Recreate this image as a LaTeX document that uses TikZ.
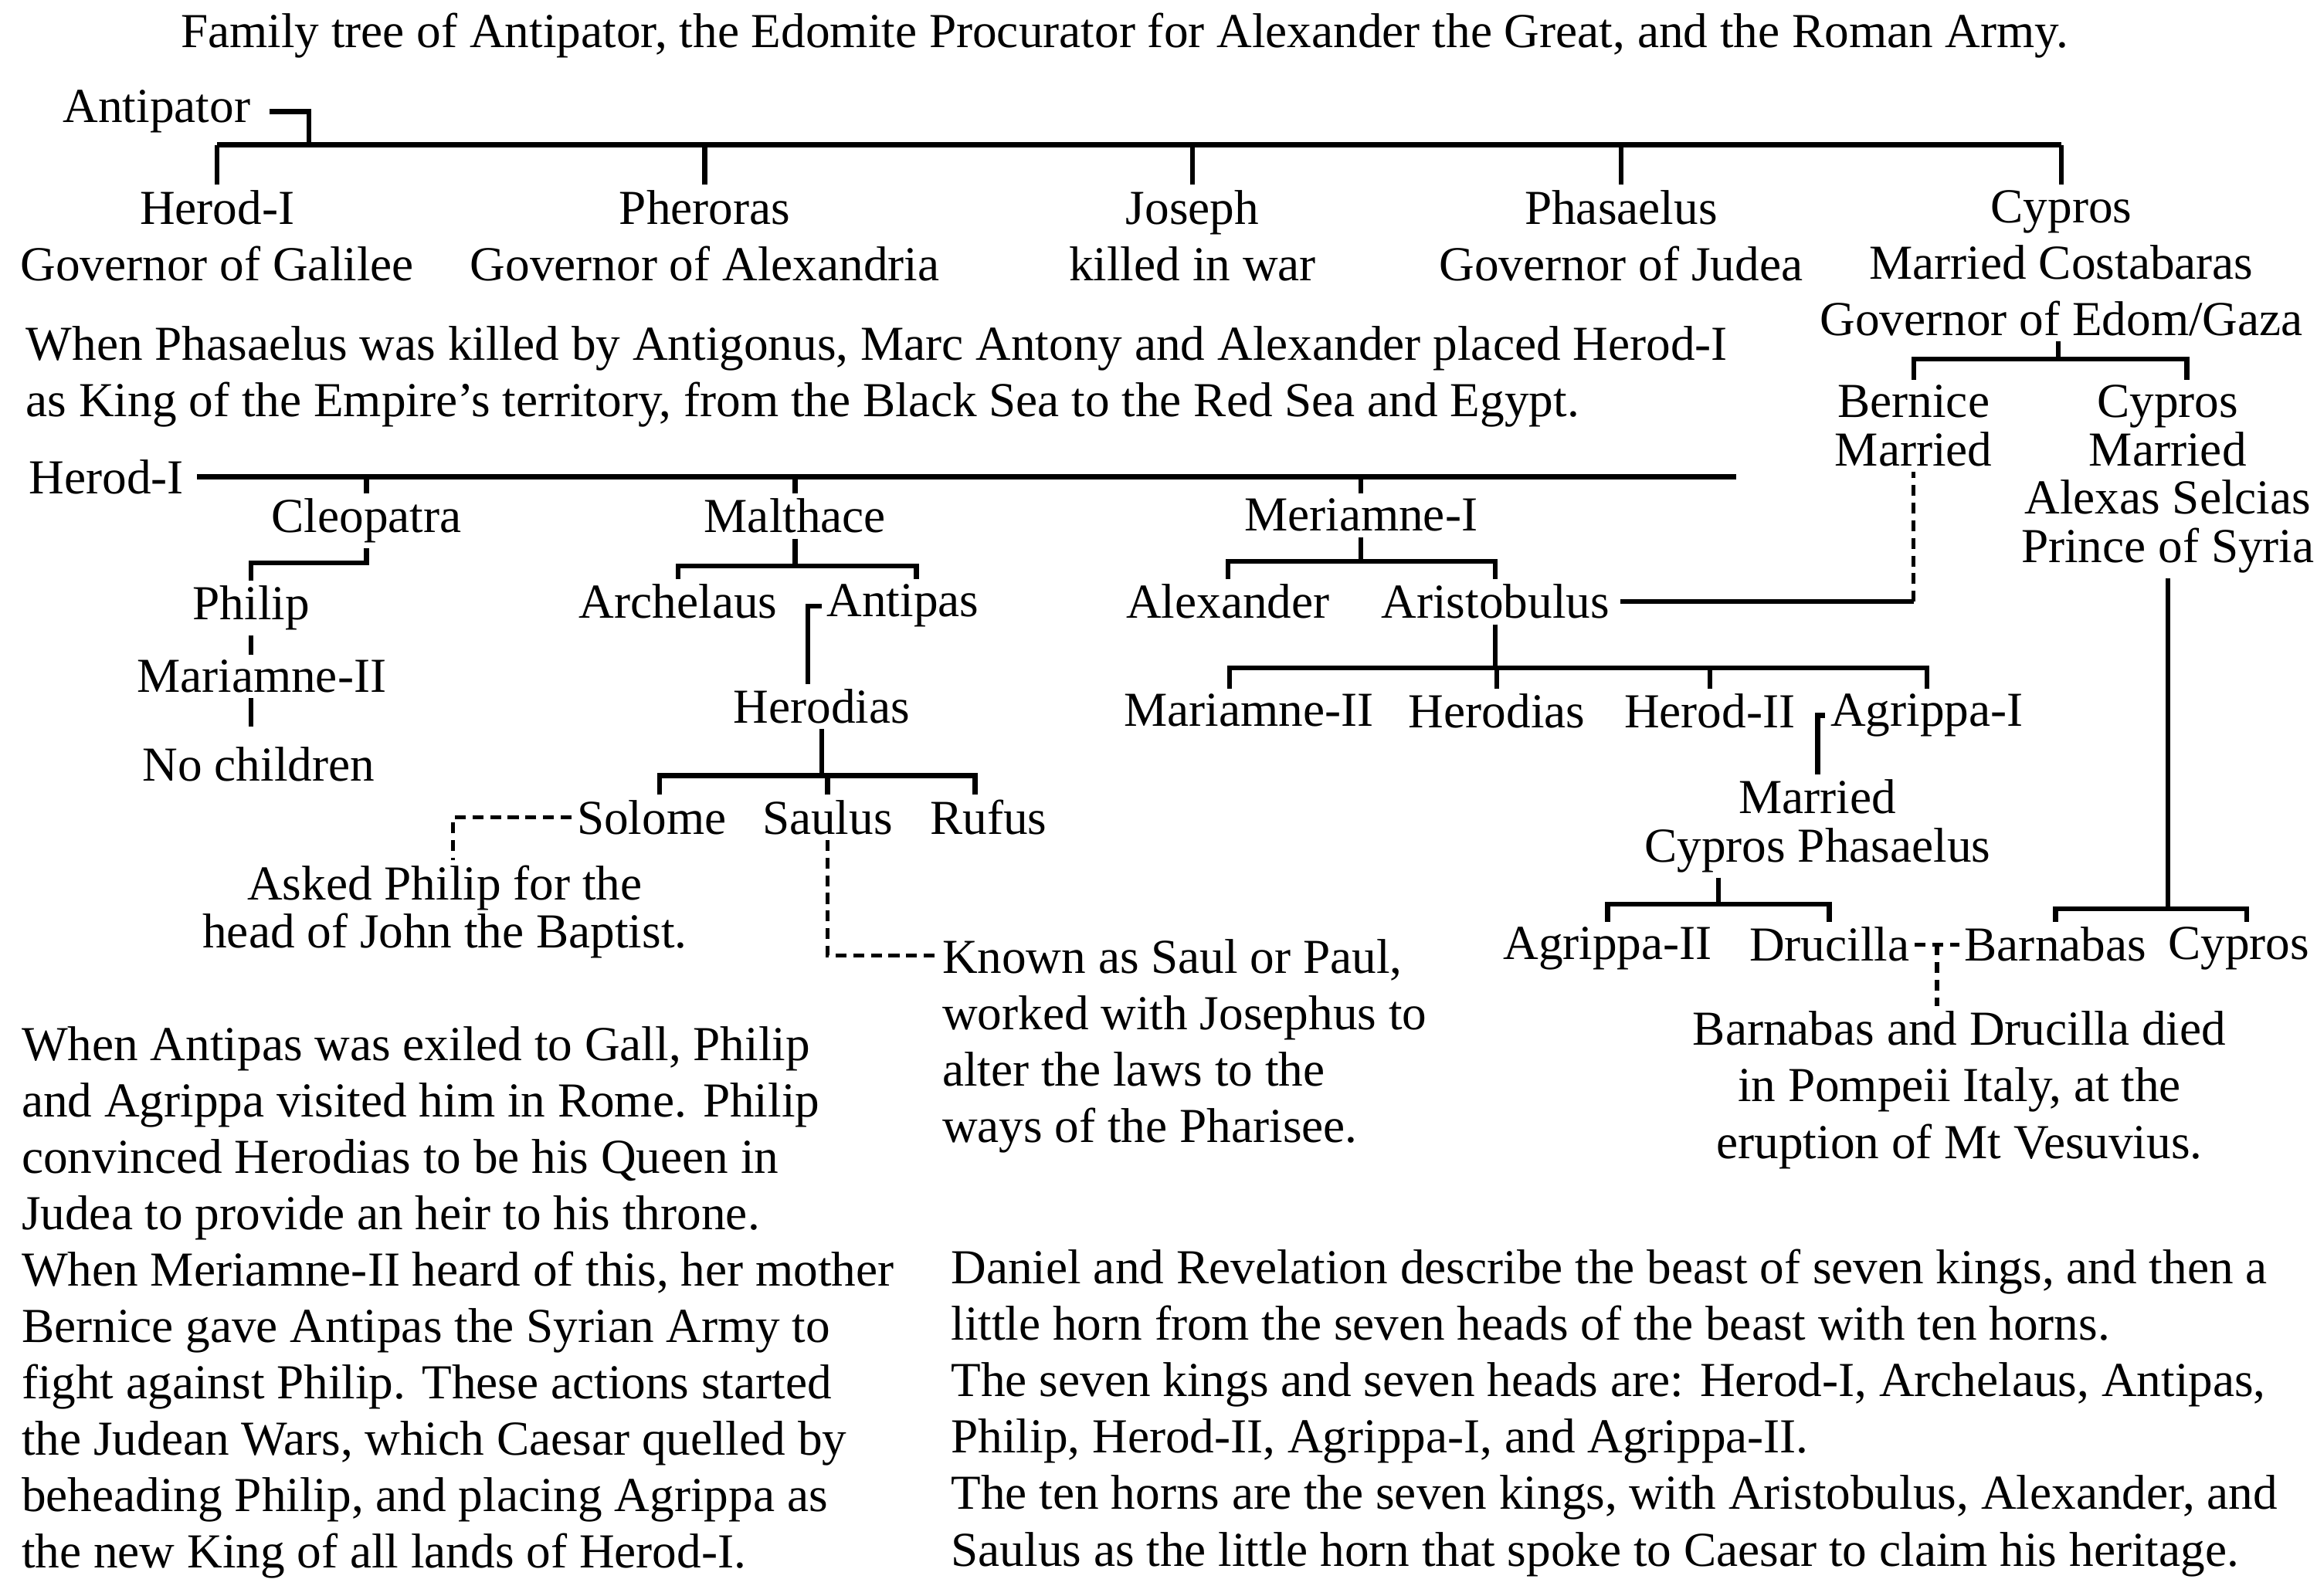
\documentclass[tikz,border=0pt]{standalone}
\usepackage{fontspec}
\setmainfont{Liberation Serif}
\usetikzlibrary{calc}

\begin{document}
\begin{tikzpicture}[x=0.019133cm, y=-0.019133cm,
    txt/.style={inner sep=0pt, outer sep=2pt, font=\fontsize{18pt}{20.8pt}\selectfont},
    who/.style={txt, anchor=north, align=center},
    tight/.style={font=\fontsize{18pt}{17.8pt}\selectfont},
    para/.style={txt, anchor=north west, align=left},
    tie/.style={line width=1.8pt},
    hint/.style={line width=1.5pt, dash pattern=on 4pt off 2.5pt}]
  \useasboundingbox (0,0) rectangle (1568,1080);

  % Title
  \node[txt, anchor=base] (title) at (761,32) {Family tree of Antipator, the Edomite Procurator for Alexander the Great, and the Roman Army.};

  % Top: Antipator and his children
  \node[txt, anchor=base west] (antipator) at (39,83) {Antipator};
  \node[who] (herodA) at (147,125) {Herod-I\\Governor of Galilee};
  \node[who] (pheroras) at (477,125) {Pheroras\\Governor of Alexandria};
  \node[who] (joseph) at (807,125) {Joseph\\killed in war};
  \node[who] (phasaelus) at (1097,125) {Phasaelus\\Governor of Judea};
  \node[who] (cyprosA) at (1395,125) {Cypros\\Married Costabaras\\Governor of Edom/Gaza};
  \coordinate (antbar) at (209,98);
  \draw[tie] ([xshift=5pt]antipator.east) -| (antbar);
  \draw[tie] (herodA.north |- antbar) -- (cyprosA.north |- antbar);
  \foreach \n in {herodA,pheroras,joseph,phasaelus,cyprosA}
    \draw[tie] (\n.north) -- (\n.north |- antbar);

  % Cypros and Costabaras
  \node[who, tight] (bernice) at (1295,257) {Bernice\\Married};
  \node[who, tight] (cyprosB) at (1467,257) {Cypros\\Married\\Alexas Selcias\\Prince of Syria};
  \coordinate (cypAj) at (1393,243);
  \draw[tie] (cyprosA.south -| cypAj) -- (cypAj);
  \draw[tie] (bernice.north) |- (cypAj) -| ([xshift=7pt]cyprosB.north);

  \node[para] (phasnote) at (14,217) {When Phasaelus was killed by Antigonus, Marc Antony and Alexander placed Herod-I\\as King of the Empire's territory, from the Black Sea to the Red Sea and Egypt.};

  % Herod-I and his wives
  \node[txt, anchor=base west] (herodB) at (16,334) {Herod-I};
  \coordinate (wivend) at (1175,0);
  \draw[tie] ([xshift=3pt]herodB.east) -- (herodB.east -| wivend);
  \node[who] (cleopatra) at (248,334) {Cleopatra};
  \node[who] (malthace) at (538,334) {Malthace};
  \node[who] (meriamne) at (921,334) {Meriamne-I};
  \foreach \n in {cleopatra,malthace,meriamne}
    \draw[tie] (\n.north) -- (\n.north |- herodB.east);

  % Cleopatra
  \node[who] (philip) at (170,393) {Philip};
  \node[who] (mariamneA) at (177,443) {Mariamne-II};
  \node[who] (nochild) at (175,502) {No children};
  \coordinate (cleoj) at (248,381);
  \draw[tie] (cleopatra.south) -- (cleoj) -| (philip.north);
  \draw[tie] (philip.south) -- (philip.south |- mariamneA.north);
  \draw[tie] (mariamneA.south -| philip.south) -- ($(nochild.north -| philip.south)+(0,-10)$);

  % Malthace
  \node[who] (archelaus) at (459,392) {Archelaus};
  \node[who] (antipas) at (611,392) {Antipas};
  \node[who] (herodiasA) at (556,463) {Herodias};
  \coordinate (malj) at (538,383);
  \draw[tie] (malthace.south) -- (malj);
  \draw[tie] (archelaus.north) |- (malj) -| ([xshift=5pt]antipas.north);
  \draw[tie] (antipas.west) -| ([xshift=-5pt]herodiasA.north);

  \node[who] (solome) at (441,538) {Solome};
  \node[who] (saulus) at (560,538) {Saulus};
  \node[who] (rufus) at (669,538) {Rufus};
  \coordinate (herj) at (556,525);
  \draw[tie] (herodiasA.south) -- (herj);
  \draw[tie] ([xshift=3pt]solome.north) |- (herj) -| ([xshift=-5pt]rufus.north);
  \draw[tie] (saulus.north) -- (saulus.north |- herj);

  \node[who, tight] (asked) at (301,582) {Asked Philip for the\\head of John the Baptist.};
  \draw[hint] (solome.west) -| ([xshift=3pt]asked.north);
  \node[para] (known) at (634,632) {Known as Saul or Paul,\\worked with Josephus to\\alter the laws to the\\ways of the Pharisee.};
  \draw[hint] (saulus.south) |- ([yshift=-8pt]known.north west);

  % Meriamne-I
  \node[who] (alexander) at (831,392) {Alexander};
  \node[who] (aristobulus) at (1012,392) {Aristobulus};
  \coordinate (merj) at (921,380);
  \draw[tie] (meriamne.south) -- (merj);
  \draw[tie] (alexander.north) |- (merj) -| (aristobulus.north);
  \draw[tie] ([xshift=2pt]aristobulus.east) -- (aristobulus.east -| bernice.south);
  \draw[hint] (aristobulus.east -| bernice.south) -- (bernice.south);

  \node[who] (mariamneB) at (845,466) {Mariamne-II};
  \node[who] (herodiasB) at (1013,466) {Herodias};
  \node[who] (herodII) at (1157,466) {Herod-II};
  \node[who] (agrippaI) at (1304,466) {Agrippa-I};
  \coordinate (arij) at (1011,452);
  \draw[tie] (aristobulus.south) -- (aristobulus.south |- arij);
  \draw[tie] ([xshift=-7pt]mariamneB.north) |- (arij) -| (agrippaI.north);
  \foreach \n in {herodiasB,herodII}
    \draw[tie] (\n.north) -- (\n.north |- arij);

  \node[who, tight] (marriedC) at (1230,524) {Married\\Cypros Phasaelus};
  \draw[tie] (agrippaI.west) -| (marriedC.north);
  \node[who] (agrippaII) at (1088,624) {Agrippa-II};
  \node[who] (drucilla) at (1238,624) {Drucilla};
  \coordinate (agrj) at (1163,612);
  \draw[tie] (agrj |- marriedC.south) -- (agrj);
  \draw[tie] (agrippaII.north) |- (agrj) -| (drucilla.north);

  % Cypros and Alexas
  \node[who] (barnabas) at (1391,624) {Barnabas};
  \node[who] (cyprosC) at (1515,624) {Cypros};
  \coordinate (cypBj) at (1467,615);
  \draw[tie] (cyprosB.south) -- (cypBj);
  \draw[tie] (barnabas.north) |- (cypBj) -| ([xshift=3pt]cyprosC.north);

  \draw[hint] (drucilla.east) -- (barnabas.west);
  \node[who] (died) at (1326,681) {Barnabas and Drucilla died\\in Pompeii Italy, at the\\eruption of Mt Vesuvius.};
  \coordinate (vesj) at ($(drucilla.east)!0.5!(barnabas.west)$);
  \draw[hint] (vesj) -- (vesj |- died.north);

  % Notes at the bottom
  \node[para] (exile) at (11,691) {When Antipas was exiled to Gall, Philip\\and Agrippa visited him in Rome. Philip\\convinced Herodias to be his Queen in\\Judea to provide an heir to his throne.\\When Meriamne-II heard of this, her mother\\Bernice gave Antipas the Syrian Army to\\fight against Philip. These actions started\\the Judean Wars, which Caesar quelled by\\beheading Philip, and placing Agrippa as\\the new King of all lands of Herod-I.};
  \node[para] (beast) at (640,842) {Daniel and Revelation describe the beast of seven kings, and then a\\little horn from the seven heads of the beast with ten horns.\\The seven kings and seven heads are: Herod-I, Archelaus, Antipas,\\Philip, Herod-II, Agrippa-I, and Agrippa-II.\\The ten horns are the seven kings, with Aristobulus, Alexander, and\\Saulus as the little horn that spoke to Caesar to claim his heritage.};
\end{tikzpicture}
\end{document}
